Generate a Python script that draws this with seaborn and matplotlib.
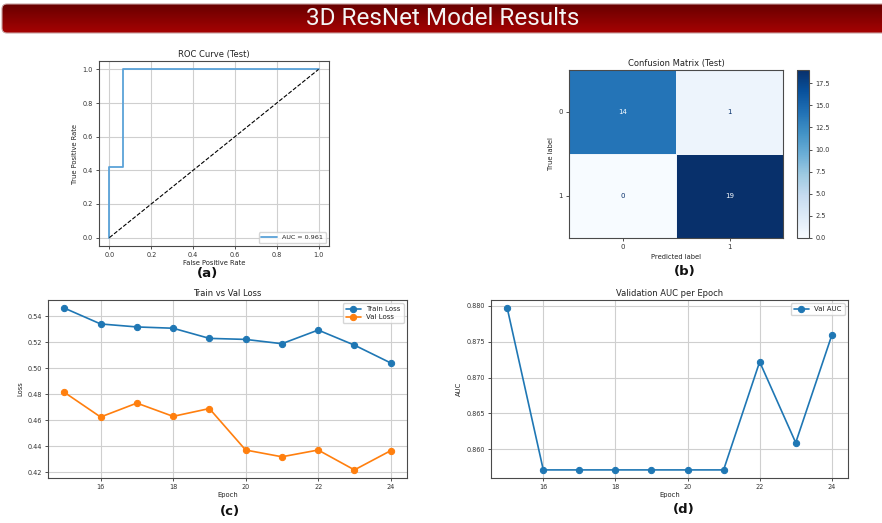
import numpy as np
import matplotlib
matplotlib.use("Agg")
import matplotlib.pyplot as plt
from matplotlib.patches import FancyBboxPatch
from matplotlib.colors import LinearSegmentedColormap
from matplotlib.ticker import MultipleLocator
import seaborn as sns

# ROC curve on the test set
roc_fpr = [0.0, 0.0, 0.067, 0.067, 1.0]
roc_tpr = [0.0, 0.421, 0.421, 1.0, 1.0]
roc_auc = 0.961
chance_line = [0.0, 1.0]

# Confusion matrix on the test set
class_labels = ["0", "1"]
cm_counts = [[14, 1],
             [0, 19]]

# Training history
epochs = [15, 16, 17, 18, 19, 20, 21, 22, 23, 24]
train_loss = [0.5462, 0.5340, 0.5317, 0.5307, 0.5229, 0.5221, 0.5188, 0.5293, 0.5177, 0.5040]
val_loss = [0.4814, 0.4624, 0.4731, 0.4629, 0.4689, 0.4370, 0.4318, 0.4370, 0.4217, 0.4365]
val_auc = [0.8797, 0.8571, 0.8571, 0.8571, 0.8571, 0.8571, 0.8571, 0.8722, 0.8609, 0.8759]

sns.set_theme(style="whitegrid", rc={
    "axes.edgecolor": "#4a4a4a",
    "axes.linewidth": 0.8,
    "grid.color": "#cfcfcf",
    "grid.linewidth": 0.8,
    "xtick.bottom": True,
    "ytick.left": True,
    "xtick.major.size": 2.5,
    "ytick.major.size": 2.5,
    "xtick.major.width": 0.6,
    "ytick.major.width": 0.6,
    "xtick.color": "#333333",
    "ytick.color": "#333333",
    "text.color": "#222222",
    "axes.labelcolor": "#222222",
})
plt.rcParams["font.family"] = ["DejaVu Sans"]

W, H = 882, 523
fig = plt.figure(figsize=(W / 100, H / 100), dpi=100)
fig.patch.set_facecolor("white")


def rect(left, top, right, bottom):
    return [left / W, 1 - bottom / H, (right - left) / W, (bottom - top) / H]


# ---- header band ----
bg = fig.add_axes([0, 0, 1, 1], zorder=-1)
bg.set_xlim(0, W)
bg.set_ylim(H, 0)
bg.axis("off")
band = FancyBboxPatch((2, 4), W + 10, 29, boxstyle="round,pad=0,rounding_size=5",
                      facecolor="none", edgecolor="#c8a0a0", lw=0.8)
bg.add_patch(band)
band_cmap = LinearSegmentedColormap.from_list("band", ["#680000", "#a60303"])
grad = np.linspace(0, 1, 64).reshape(-1, 1)
im = bg.imshow(grad, cmap=band_cmap, extent=(2, W + 12, 33, 4), aspect="auto", origin="upper")
im.set_clip_path(band)
bg.text(443, 18.5, "3D ResNet Model Results", color="#f4f4f4", fontsize=17.5,
        family="Roboto", ha="center", va="center")

title_kw = dict(fontsize=6)
tick_fs = 4.7
label_fs = 4.9

# ---- (a) ROC curve ----
ax_roc = fig.add_axes(rect(99, 61, 329, 246))
sns.lineplot(x=roc_fpr, y=roc_tpr, estimator=None, sort=False, ax=ax_roc,
             color="#5aa2d8", lw=1.3, label=f"AUC = {roc_auc:.3f}")
sns.lineplot(x=chance_line, y=chance_line, estimator=None, sort=False, ax=ax_roc,
             color="black", lw=0.8, linestyle="--")
ax_roc.set_xticks(np.arange(0, 1.01, 0.2))
ax_roc.set_yticks(np.arange(0, 1.01, 0.2))
ax_roc.set_title("ROC Curve (Test)", pad=3, **title_kw)
ax_roc.set_xlabel("False Positive Rate", fontsize=label_fs, labelpad=1)
ax_roc.set_ylabel("True Positive Rate", fontsize=label_fs, labelpad=3)
ax_roc.tick_params(labelsize=tick_fs, pad=2)
ax_roc.legend(loc="lower right", fontsize=4.6, handlelength=2.5, borderpad=0.4)

# ---- (b) confusion matrix ----
ax_cm = fig.add_axes(rect(569, 70, 783, 238))
cax = fig.add_axes(rect(797, 70, 809, 238))
cm_arr = np.array(cm_counts)
blues = plt.get_cmap("Blues")
sns.heatmap(cm_arr, cmap=blues, vmin=cm_arr.min(), vmax=cm_arr.max(), annot=False,
            cbar_ax=cax, ax=ax_cm, linewidths=0.6, linecolor="#eef4fa",
            xticklabels=class_labels, yticklabels=class_labels)
thresh = (cm_arr.max() + cm_arr.min()) / 2
for i in range(cm_arr.shape[0]):
    for j in range(cm_arr.shape[1]):
        v = cm_arr[i, j]
        col = blues(0.0) if v > thresh else blues(1.0)
        ax_cm.text(j + 0.5, i + 0.5, str(v), ha="center", va="center",
                   fontsize=5, color=col)
for s in ax_cm.spines.values():
    s.set_visible(True)
    s.set_color("#4a4a4a")
    s.set_linewidth(0.8)
ax_cm.set_title("Confusion Matrix (Test)", pad=3, **title_kw)
ax_cm.set_xlabel("Predicted label", fontsize=label_fs, labelpad=3)
ax_cm.set_ylabel("True label", fontsize=label_fs, labelpad=3)
ax_cm.tick_params(labelsize=5, pad=2, rotation=0)
cbar = ax_cm.collections[0].colorbar
cbar.outline.set_linewidth(0.8)
cbar.outline.set_edgecolor("#4a4a4a")
cax.yaxis.set_major_locator(MultipleLocator(2.5))
cax.tick_params(labelsize=tick_fs, length=2.5, width=0.6, pad=2, right=True, left=False)

# ---- (c) loss curves ----
ax_loss = fig.add_axes(rect(48, 300, 407, 478))
sns.lineplot(x=epochs, y=train_loss, marker="o", ax=ax_loss, color="#1f77b4", lw=1.2,
             markersize=4.5, markeredgecolor="#1f77b4", label="Train Loss")
sns.lineplot(x=epochs, y=val_loss, marker="o", ax=ax_loss, color="#ff7f0e", lw=1.2,
             markersize=4.5, markeredgecolor="#ff7f0e", label="Val Loss")
ax_loss.set_title("Train vs Val Loss", pad=3, **title_kw)
ax_loss.set_xlabel("Epoch", fontsize=label_fs, labelpad=1)
ax_loss.set_ylabel("Loss", fontsize=label_fs, labelpad=3)
ax_loss.set_xticks([16, 18, 20, 22, 24])
ax_loss.tick_params(labelsize=tick_fs, pad=2)
ax_loss.legend(loc="upper right", fontsize=5, handlelength=2.2, borderpad=0.4, labelspacing=0.3)

# ---- (d) validation AUC ----
ax_auc = fig.add_axes(rect(491, 300, 848, 478))
sns.lineplot(x=epochs, y=val_auc, marker="o", ax=ax_auc, color="#1f77b4", lw=1.2,
             markersize=4.5, markeredgecolor="#1f77b4", label="Val AUC")
ax_auc.set_title("Validation AUC per Epoch", pad=3, **title_kw)
ax_auc.set_xlabel("Epoch", fontsize=label_fs, labelpad=1)
ax_auc.set_ylabel("AUC", fontsize=label_fs, labelpad=3)
ax_auc.set_xticks([16, 18, 20, 22, 24])
ax_auc.yaxis.set_major_locator(MultipleLocator(0.005))
ax_auc.yaxis.set_major_formatter(matplotlib.ticker.FormatStrFormatter("%.3f"))
ax_auc.tick_params(labelsize=tick_fs, pad=2)
ax_auc.legend(loc="upper right", fontsize=5, handlelength=2.2, borderpad=0.4)

# ---- panel letters ----
for letter, (px, py) in {"(a)": (207, 274), "(b)": (685, 272),
                         "(c)": (230, 512), "(d)": (684, 509)}.items():
    fig.text(px / W, 1 - py / H, letter, fontsize=9.5, fontweight="bold",
             ha="center", va="center", color="#111111")

fig.savefig("out.png", dpi=100)
